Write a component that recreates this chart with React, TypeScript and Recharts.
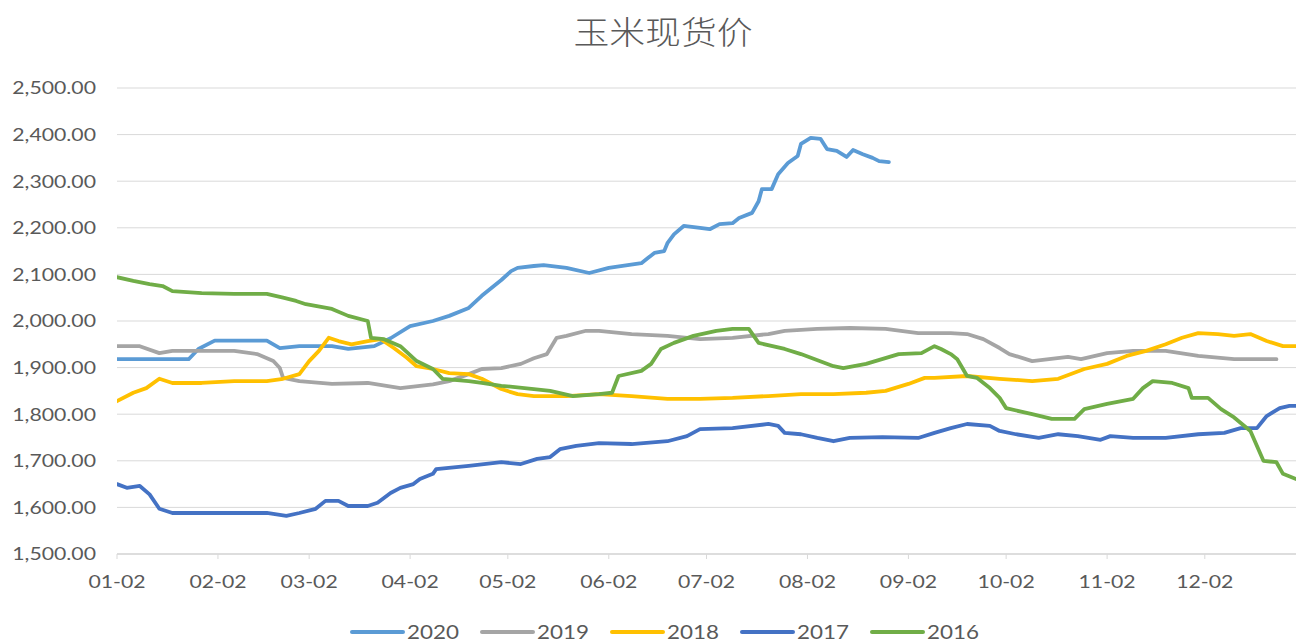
import React from 'react';
import { LineChart, Line, XAxis, YAxis, CartesianGrid } from 'recharts';

// x = days since Jan 2
const monthTickDays = [0, 31, 59, 90, 120, 151, 181, 212, 243, 273, 304, 334];
const monthTickLabels = ['01-02', '02-02', '03-02', '04-02', '05-02', '06-02', '07-02', '08-02', '09-02', '10-02', '11-02', '12-02'];
const yTicks = [1500, 1600, 1700, 1800, 1900, 2000, 2100, 2200, 2300, 2400, 2500];

const days2020 = [0, 22, 25, 30, 46, 50, 56, 66, 71, 79, 84, 90, 97, 102, 108, 112, 118, 121, 123, 128, 131, 138, 145, 151, 161, 163, 165, 168, 169, 171, 174, 179, 182, 185, 189, 191, 195, 197, 198, 201, 203, 206, 209, 210, 213, 216, 218, 221, 224, 226, 229, 232, 234, 237];
const price2020 = [1918, 1918, 1940, 1958, 1958, 1942, 1946, 1946, 1940, 1946, 1963, 1989, 2000, 2011, 2028, 2054, 2088, 2107, 2114, 2118, 2120, 2114, 2103, 2114, 2124, 2135, 2146, 2150, 2167, 2186, 2204, 2200, 2197, 2208, 2210, 2221, 2232, 2257, 2283, 2283, 2315, 2339, 2354, 2380, 2393, 2391, 2369, 2365, 2352, 2367, 2358, 2350, 2343, 2341];

const days2019 = [0, 7, 13, 17, 22, 26, 36, 43, 48, 50, 51, 56, 66, 77, 87, 97, 102, 108, 112, 118, 124, 128, 132, 135, 138, 144, 148, 158, 169, 179, 189, 200, 205, 215, 225, 236, 246, 256, 261, 266, 271, 274, 281, 292, 296, 304, 312, 322, 332, 343, 356];
const price2019 = [1946, 1946, 1931, 1936, 1936, 1936, 1936, 1929, 1914, 1899, 1878, 1871, 1865, 1867, 1856, 1864, 1871, 1886, 1897, 1899, 1908, 1920, 1929, 1964, 1968, 1979, 1979, 1972, 1968, 1961, 1964, 1972, 1979, 1983, 1985, 1983, 1974, 1974, 1972, 1961, 1942, 1929, 1914, 1923, 1918, 1931, 1936, 1936, 1925, 1918, 1918];

const days2018 = [0, 5, 9, 13, 17, 26, 36, 46, 51, 56, 59, 62, 65, 68, 72, 77, 81, 85, 89, 92, 97, 102, 108, 112, 118, 123, 128, 138, 148, 158, 169, 179, 189, 200, 210, 220, 230, 236, 243, 248, 251, 261, 271, 281, 289, 297, 304, 310, 316, 322, 327, 332, 338, 343, 348, 353, 358, 362];
const price2018 = [1828, 1846, 1856, 1876, 1867, 1867, 1871, 1871, 1876, 1886, 1914, 1936, 1964, 1957, 1950, 1957, 1961, 1942, 1921, 1903, 1897, 1888, 1886, 1876, 1854, 1843, 1839, 1839, 1843, 1839, 1833, 1833, 1835, 1839, 1843, 1843, 1846, 1850, 1865, 1878, 1878, 1882, 1876, 1871, 1876, 1897, 1908, 1925, 1936, 1950, 1964, 1974, 1972, 1968, 1972, 1957, 1946, 1946];

const days2017 = [0, 3, 7, 10, 13, 17, 26, 36, 46, 52, 56, 61, 64, 68, 71, 77, 80, 84, 87, 91, 93, 97, 98, 108, 118, 124, 129, 133, 136, 141, 148, 158, 169, 175, 179, 189, 200, 203, 205, 210, 215, 220, 225, 235, 246, 251, 256, 261, 268, 271, 276, 283, 289, 295, 302, 305, 312, 322, 332, 340, 345, 350, 353, 357, 360, 362];
const price2017 = [1650, 1642, 1646, 1628, 1597, 1588, 1588, 1588, 1588, 1582, 1588, 1597, 1614, 1614, 1603, 1603, 1610, 1631, 1642, 1650, 1661, 1672, 1682, 1689, 1697, 1693, 1704, 1708, 1725, 1732, 1738, 1736, 1742, 1753, 1768, 1770, 1779, 1775, 1760, 1757, 1749, 1742, 1749, 1751, 1749, 1760, 1770, 1779, 1775, 1764, 1757, 1749, 1757, 1753, 1745, 1753, 1749, 1749, 1757, 1760, 1770, 1770, 1796, 1813, 1818, 1818];

const days2016 = [0, 5, 10, 14, 17, 26, 36, 46, 51, 55, 58, 66, 71, 77, 78, 82, 87, 92, 97, 100, 108, 112, 118, 128, 133, 140, 148, 152, 154, 161, 164, 167, 171, 177, 184, 189, 194, 197, 205, 210, 220, 223, 230, 240, 247, 251, 253, 256, 258, 261, 264, 268, 271, 273, 281, 287, 294, 297, 304, 312, 315, 318, 324, 329, 330, 335, 339, 343, 348, 352, 356, 358, 362];
const price2016 = [2094, 2086, 2079, 2075, 2064, 2060, 2058, 2058, 2050, 2043, 2036, 2026, 2011, 2000, 1964, 1961, 1946, 1914, 1897, 1876, 1871, 1867, 1861, 1854, 1850, 1839, 1843, 1846, 1882, 1893, 1908, 1940, 1953, 1968, 1979, 1983, 1983, 1953, 1940, 1929, 1903, 1899, 1908, 1929, 1931, 1946, 1940, 1929, 1918, 1882, 1878, 1856, 1835, 1813, 1800, 1790, 1790, 1811, 1822, 1833, 1856, 1871, 1867, 1856, 1835, 1835, 1811, 1793, 1764, 1700, 1697, 1672, 1661];

const seriesNames = ['2020', '2019', '2018', '2017', '2016'];
const seriesColors = ['#5B9BD5', '#A5A5A5', '#FFC000', '#4472C4', '#70AD47'];
const seriesDays = [days2020, days2019, days2018, days2017, days2016];
const seriesPrices = [price2020, price2019, price2018, price2017, price2016];

const toPoints = (days: number[], prices: number[]) => days.map((d, i) => ({ day: d, price: prices[i] }));

const TEXT = '#595959';
const STRETCH = 1.18;
const FONT = 'Lato, "Open Sans", sans-serif';

const fmtY = (v: number) => v.toLocaleString('en-US', { minimumFractionDigits: 2, maximumFractionDigits: 2 });
const fmtX = (v: number) => {
  const i = monthTickDays.indexOf(v);
  return i >= 0 ? monthTickLabels[i] : '';
};

const YTick = (props: any) => {
  const { x, y, payload } = props;
  return (
    <g transform={`translate(${x},${y})`}>
      <text transform={`scale(${STRETCH},1)`} textAnchor="end" dy="0.36em" fill={TEXT} fontSize={18} fontFamily={FONT}>
        {fmtY(payload.value)}
      </text>
    </g>
  );
};

const XTick = (props: any) => {
  const { x, y, payload } = props;
  return (
    <g transform={`translate(${x},${y})`}>
      <text transform={`scale(${STRETCH},1)`} textAnchor="middle" dy="0.36em" fill={TEXT} fontSize={18} fontFamily={FONT}>
        {fmtX(payload.value)}
      </text>
    </g>
  );
};

export default function App() {
  return (
    <div style={{ position: 'absolute', left: 0, top: 0, width: 1296, height: 643, background: '#fff', overflow: 'hidden' }}>
      <div
        style={{
          position: 'absolute',
          left: 663,
          top: 13,
          transform: `translateX(-50%) scaleX(1.12)`,
          fontFamily: '"Noto Sans CJK SC", sans-serif',
          fontWeight: 300,
          fontSize: 32,
          lineHeight: '34px',
          color: TEXT,
          whiteSpace: 'nowrap',
        }}
      >
        玉米现货价
      </div>
      <LineChart width={1296} height={643} margin={{ top: 88, right: 0, bottom: 0, left: 0 }}>
        <CartesianGrid horizontal vertical={false} stroke="#D9D9D9" strokeWidth={1} />
        <XAxis
          type="number"
          dataKey="day"
          domain={[0, 362]}
          ticks={monthTickDays}
          interval={0}
          height={89}
          tickSize={5}
          tickMargin={23}
          axisLine={{ stroke: '#D9D9D9', strokeWidth: 1.5 }}
          tickLine={{ stroke: '#D9D9D9' }}
          tick={XTick}
          allowDataOverflow
        />
        <YAxis
          type="number"
          domain={[1500, 2500]}
          ticks={yTicks}
          interval={0}
          width={117}
          tickSize={0}
          tickMargin={21}
          axisLine={false}
          tickLine={false}
          tick={YTick}
          allowDataOverflow
        />
        {seriesNames.map((name, i) => (
          <Line
            key={name}
            name={name}
            data={toPoints(seriesDays[i], seriesPrices[i])}
            dataKey="price"
            type="linear"
            stroke={seriesColors[i]}
            strokeWidth={3.8}
            strokeLinejoin="round"
            strokeLinecap="round"
            dot={false}
            activeDot={false}
            isAnimationActive={false}
          />
        ))}
      </LineChart>
      <div style={{ position: 'absolute', left: 350, top: 620, display: 'flex', flexDirection: 'row' }}>
        {seriesNames.map((name, i) => (
          <div key={name} style={{ width: 130, height: 24, display: 'flex', alignItems: 'center' }}>
            <div style={{ width: 55, height: 4, background: seriesColors[i], borderRadius: 2 }} />
            <div
              style={{
                marginLeft: 2,
                fontFamily: FONT,
                fontSize: 19,
                color: TEXT,
                transform: `scaleX(${STRETCH})`,
                transformOrigin: 'left center',
                lineHeight: '24px',
              }}
            >
              {name}
            </div>
          </div>
        ))}
      </div>
    </div>
  );
}
